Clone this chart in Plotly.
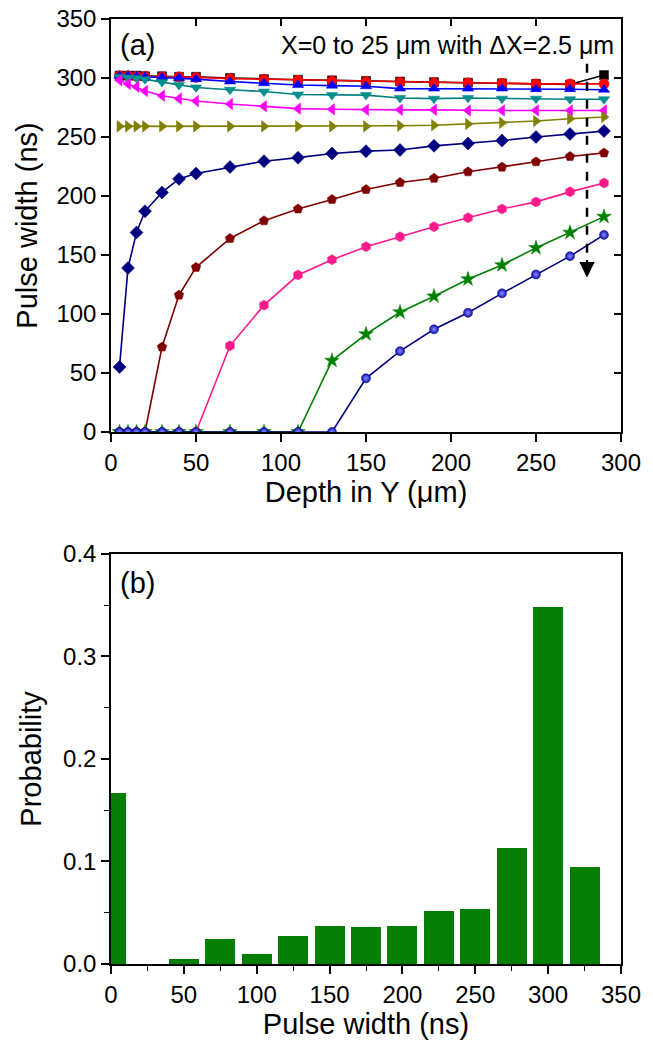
import plotly.graph_objects as go

# ---------------- data: panel (a) ----------------
depth_y = [5, 10, 15, 20, 30, 40, 50, 70, 90, 110, 130, 150, 170, 190, 210, 230, 250, 270, 290]

pw_x0   = [302, 302, 302, 301.5, 301.5, 301, 301, 300, 299, 298.5, 298, 297.5, 297, 296.5, 296, 295.5, 295, 294.5, 302.5]
pw_x1   = [302, 302, 301.5, 301.5, 301, 301, 300.5, 299.5, 299, 298, 297.5, 297, 296.5, 296, 296, 295.5, 295, 295, 295]
pw_x2   = [302, 302, 301.5, 301, 300.5, 300, 299, 297, 295.5, 294, 293.5, 293, 291, 291, 291, 291, 290.5, 290.5, 290]
pw_x3   = [301, 300.5, 300, 299, 296.5, 294, 292, 290, 288.5, 286, 285.5, 285.5, 283, 282.5, 283, 282.5, 282.5, 282, 282]
pw_x4   = [298, 295, 292.5, 289, 285, 282.5, 280.5, 278, 276, 274, 273.5, 273, 273, 273, 272.5, 272.5, 272.5, 272.5, 272.5]
pw_x5   = [259, 259, 259, 259, 259, 259, 259, 259, 259, 259, 259, 259, 259.5, 260, 261, 262, 263.5, 265.5, 267]
pw_x6   = [55, 139, 169, 187, 203, 214.5, 219, 224.5, 229.5, 232.5, 236, 238, 239, 242.5, 244.5, 247, 250, 252.5, 255]
pw_x7   = [0, 0, 0, 0, 72, 116, 139.5, 164, 179, 189, 197, 205.5, 211.5, 215, 220.5, 224.5, 229, 233.5, 236.5]
pw_x8   = [0, 0, 0, 0, 0, 0, 0, 73, 107.5, 133, 146, 157, 165.5, 174, 181.5, 189, 195, 203.5, 211]
pw_x9   = [0, 0, 0, 0, 0, 0, 0, 0, 0, 0, 60.5, 83, 101.5, 115, 129.5, 141.5, 156, 169, 182.5]
pw_x10  = [0, 0, 0, 0, 0, 0, 0, 0, 0, 0, 0, 45.5, 68.5, 87, 101, 117.5, 133.5, 149, 167]

series = [pw_x0, pw_x1, pw_x2, pw_x3, pw_x4, pw_x5, pw_x6, pw_x7, pw_x8, pw_x9, pw_x10]
series_names = ["X=0", "X=2.5", "X=5", "X=7.5", "X=10", "X=12.5", "X=15", "X=17.5", "X=20", "X=22.5", "X=25"]
line_colors = ["#000000", "#FF0000", "#0000FF", "#008080", "#FF00FF", "#808000",
               "#000080", "#800000", "#FF1A8C", "#008000", "#000080"]
marker_colors = ["#000000", "#FF0000", "#0000FF", "#00908F", "#FF00FF", "#808000",
                 "#000080", "#800000", "#FF1A8C", "#008000", "#1010B0"]
symbols = ["square", "circle", "triangle-up", "triangle-down", "triangle-left",
           "triangle-right", "diamond", "pentagon", "hexagon", "star", "circle"]
sizes = [9, 10, 10, 10, 10, 10, 10, 10, 10, 11, 9]

# ---------------- data: panel (b) ----------------
pw_bins = [0, 25, 50, 75, 100, 125, 150, 175, 200, 225, 250, 275, 300, 325]
probability = [0.167, 0.0, 0.005, 0.025, 0.0095, 0.0273, 0.0372, 0.0365, 0.0372,
               0.0514, 0.0533, 0.1133, 0.348, 0.0948]

FONT = "Arial, Liberation Sans, sans-serif"

fig = go.Figure()

for i, ys in enumerate(series):
    marker = dict(symbol=symbols[i], size=sizes[i], color=marker_colors[i],
                  line=dict(width=0.5, color=line_colors[i]))
    if i == len(series) - 1:
        marker["gradient"] = dict(type="radial", color="#8C8CFF")
    fig.add_trace(go.Scatter(
        x=depth_y, y=ys, mode="lines+markers", name=series_names[i],
        line=dict(color=line_colors[i], width=1.6),
        marker=marker, xaxis="x", yaxis="y", showlegend=False))

# empty trace for the inner-tick overlay axes of panel (a)
fig.add_trace(go.Scatter(x=[], y=[], xaxis="x3", yaxis="y3", showlegend=False))

fig.add_trace(go.Bar(x=pw_bins, y=probability, width=20.5,
                     marker=dict(color="#047F04", line=dict(width=0)),
                     xaxis="x2", yaxis="y2", showlegend=False))

axis_common = dict(showline=True, linecolor="black", linewidth=1.5, showgrid=False,
                   zeroline=False, tickfont=dict(family=FONT, size=24, color="black"),
                   tickcolor="black", tickwidth=1.5, ticklen=8, ticks="outside",
                   automargin=False, ticklabeloverflow="allow")

top_dom = [0.563, 1.0]
bot_dom = [0.0, 0.434]

title_font = dict(family=FONT, size=29, color="black")

# page body adds an 8px offset, so the figure is 8px smaller on each axis
fig.update_layout(
    width=645, height=1042,
    margin=dict(l=103, r=32, t=11, b=86),
    paper_bgcolor="white", plot_bgcolor="white",
    bargap=0,
    xaxis=dict(**axis_common, domain=[0, 1], anchor="y", range=[0, 300], dtick=50,
               mirror=True,
               title=dict(text="Depth in Y (\u03bcm)", font=title_font, standoff=4)),
    yaxis=dict(**axis_common, domain=top_dom, anchor="x", range=[0, 350], dtick=50,
               mirror=True,
               title=dict(text="Pulse width (ns)", font=title_font, standoff=10)),
    xaxis3=dict(overlaying="x", side="top", anchor="y", range=[0, 300], dtick=50,
                showticklabels=False, ticks="inside", ticklen=7, tickwidth=1.5, tickcolor="black",
                showgrid=False, zeroline=False, showline=False, automargin=False),
    yaxis3=dict(overlaying="y", side="right", anchor="x", range=[0, 350], dtick=50,
                showticklabels=False, ticks="inside", ticklen=7, tickwidth=1.5, tickcolor="black",
                showgrid=False, zeroline=False, showline=False, automargin=False),
    xaxis2=dict(**axis_common, domain=[0, 1], anchor="y2", range=[0, 350], dtick=50,
                mirror=True,
                minor=dict(dtick=25, ticks="outside", ticklen=5, tickcolor="black", tickwidth=1.2),
                title=dict(text="Pulse width (ns)", font=title_font, standoff=2)),
    yaxis2=dict(**axis_common, domain=bot_dom, anchor="x2", range=[0, 0.4], dtick=0.1,
                tickformat=".1f", mirror=True,
                minor=dict(dtick=0.05, ticks="outside", ticklen=5, tickcolor="black", tickwidth=1.2),
                title=dict(text="Probability", font=title_font, standoff=13)),
)

# dashed arrow (direction of increasing X)
fig.add_shape(type="line", xref="x", yref="y", x0=280, y0=312, x1=280, y1=146,
              line=dict(color="black", width=2.5, dash="dash"))
fig.add_annotation(x=280, y=131, ax=280, ay=147, xref="x", yref="y", axref="x", ayref="y",
                   showarrow=True, arrowhead=2, arrowsize=1.4, arrowwidth=2.2,
                   arrowcolor="black", text="")

fig.add_annotation(text="(a)", xref="x domain", yref="y domain", x=0.014, y=0.937,
                   xanchor="left", yanchor="middle", showarrow=False,
                   font=dict(family=FONT, size=29, color="black"))
fig.add_annotation(text="X=0 to 25 \u03bcm with \u0394X=2.5 \u03bcm", xref="x domain", yref="y domain",
                   x=0.99, y=0.937, xanchor="right", yanchor="middle", showarrow=False,
                   font=dict(family=FONT, size=25, color="black"))
fig.add_annotation(text="(b)", xref="x2 domain", yref="y2 domain", x=0.014, y=0.929,
                   xanchor="left", yanchor="middle", showarrow=False,
                   font=dict(family=FONT, size=29, color="black"))

fig.write_html("out.html")
